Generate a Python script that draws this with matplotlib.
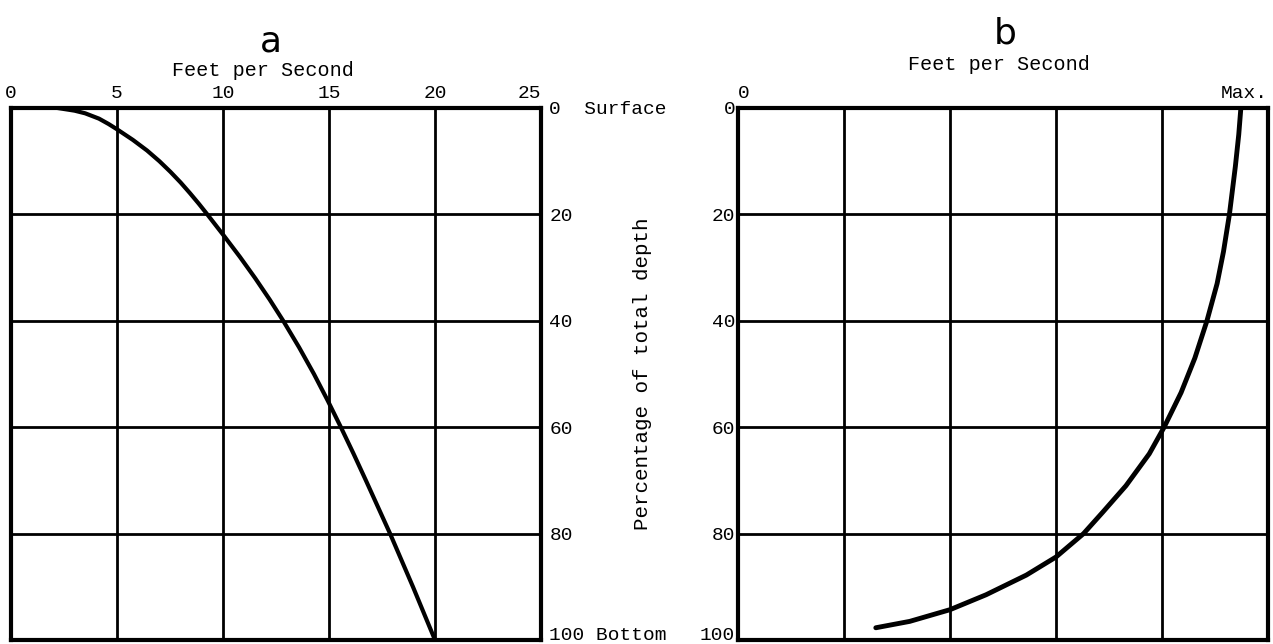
import matplotlib.pyplot as plt

# panel a: velocity (ft/s) read at percentage of total depth
depth_a = [0, 0.5, 1, 2, 3, 4, 6, 8, 10, 12, 14, 16, 18, 20, 24, 28, 32, 36, 40, 45,
           50, 55, 60, 65, 70, 80, 90, 100]
speed_a = [2.2, 3.0, 3.5, 4.15, 4.6, 5.0, 5.75, 6.42, 7.0, 7.52, 8.0, 8.44, 8.86, 9.26,
           10.04, 10.8, 11.52, 12.2, 12.84, 13.59, 14.29, 14.94, 15.56, 16.16, 16.74,
           17.88, 18.96, 20.0]

# panel b: relative velocity (0 .. Max = 25 units)
depth_b = [0, 5, 11, 20, 27, 33, 40, 47, 53.5, 60, 65, 71, 76, 80, 84.4, 87.8, 91.5,
           94.3, 96.5, 97.7]
speed_b = [23.72, 23.62, 23.46, 23.18, 22.9, 22.6, 22.12, 21.55, 20.9, 20.1, 19.4, 18.3,
           17.2, 16.3, 15.0, 13.6, 11.7, 10.0, 8.1, 6.5]

x_ticks = [0, 5, 10, 15, 20, 25]
y_ticks = [0, 20, 40, 60, 80, 100]
a_xlabels = ['0', '5', '10', '15', '20', '25']
a_ylabels = ['0  Surface', '20', '40', '60', '80', '100 Bottom']
b_xlabels = ['0', '', '', '', '', 'Max.']
b_ylabels = ['0', '20', '40', '60', '80', '100']

mono = ['Liberation Mono', 'DejaVu Sans Mono']
fig = plt.figure(figsize=(12.73, 6.44), dpi=100)
ax_a = fig.add_axes([11 / 1273, 4 / 644, 530 / 1273, 532 / 644])
ax_b = fig.add_axes([738 / 1273, 4 / 644, 530 / 1273, 532 / 644])

for ax in (ax_a, ax_b):
    ax.set_xlim(0, 25)
    ax.set_ylim(100, 0)
    ax.set_xticks(x_ticks)
    ax.set_yticks(y_ticks)
    ax.grid(True, color='black', linewidth=2.0)
    ax.set_axisbelow(True)
    for s in ax.spines.values():
        s.set_linewidth(3)
    ax.xaxis.tick_top()
    ax.tick_params(length=0, labelsize=14, pad=4)

# panel a
ax_a.plot(speed_a, depth_a, color='black', linewidth=3, solid_joinstyle='round')
ax_a.set_xticklabels(a_xlabels, family=mono)
ax_a.get_xticklabels()[-1].set_horizontalalignment('right')
ax_a.yaxis.tick_right()
ax_a.set_yticklabels(a_ylabels, family=mono)
ax_a.tick_params(axis='y', pad=6)
ax_a.get_yticklabels()[-1].set_verticalalignment('baseline')

# panel b
ax_b.plot(speed_b, depth_b, color='black', linewidth=3.5, solid_joinstyle='round',
          solid_capstyle='round')
ax_b.set_xticklabels(b_xlabels, family=mono)
ax_b.get_xticklabels()[0].set_horizontalalignment('left')
ax_b.get_xticklabels()[-1].set_horizontalalignment('right')
ax_b.set_yticklabels(b_ylabels, family=mono)
ax_b.tick_params(axis='y', pad=2)
ax_b.get_yticklabels()[-1].set_verticalalignment('baseline')

# labels
fig.text(271 / 1273, 1 - 42 / 644, 'a', fontsize=26, family='DejaVu Sans',
         ha='center', va='center')
fig.text(1005 / 1273, 1 - 34 / 644, 'b', fontsize=26, family='DejaVu Sans',
         ha='center', va='center')
fig.text(263 / 1273, 1 - 70 / 644, 'Feet per Second', fontsize=14.5, family=mono,
         ha='center', va='center')
fig.text(999 / 1273, 1 - 65 / 644, 'Feet per Second', fontsize=14.5, family=mono,
         ha='center', va='center')
fig.text(642 / 1273, 1 - 374 / 644, 'Percentage of total depth', fontsize=15,
         family=mono, rotation=90, ha='center', va='center')

plt.savefig('out.png', dpi=100)
